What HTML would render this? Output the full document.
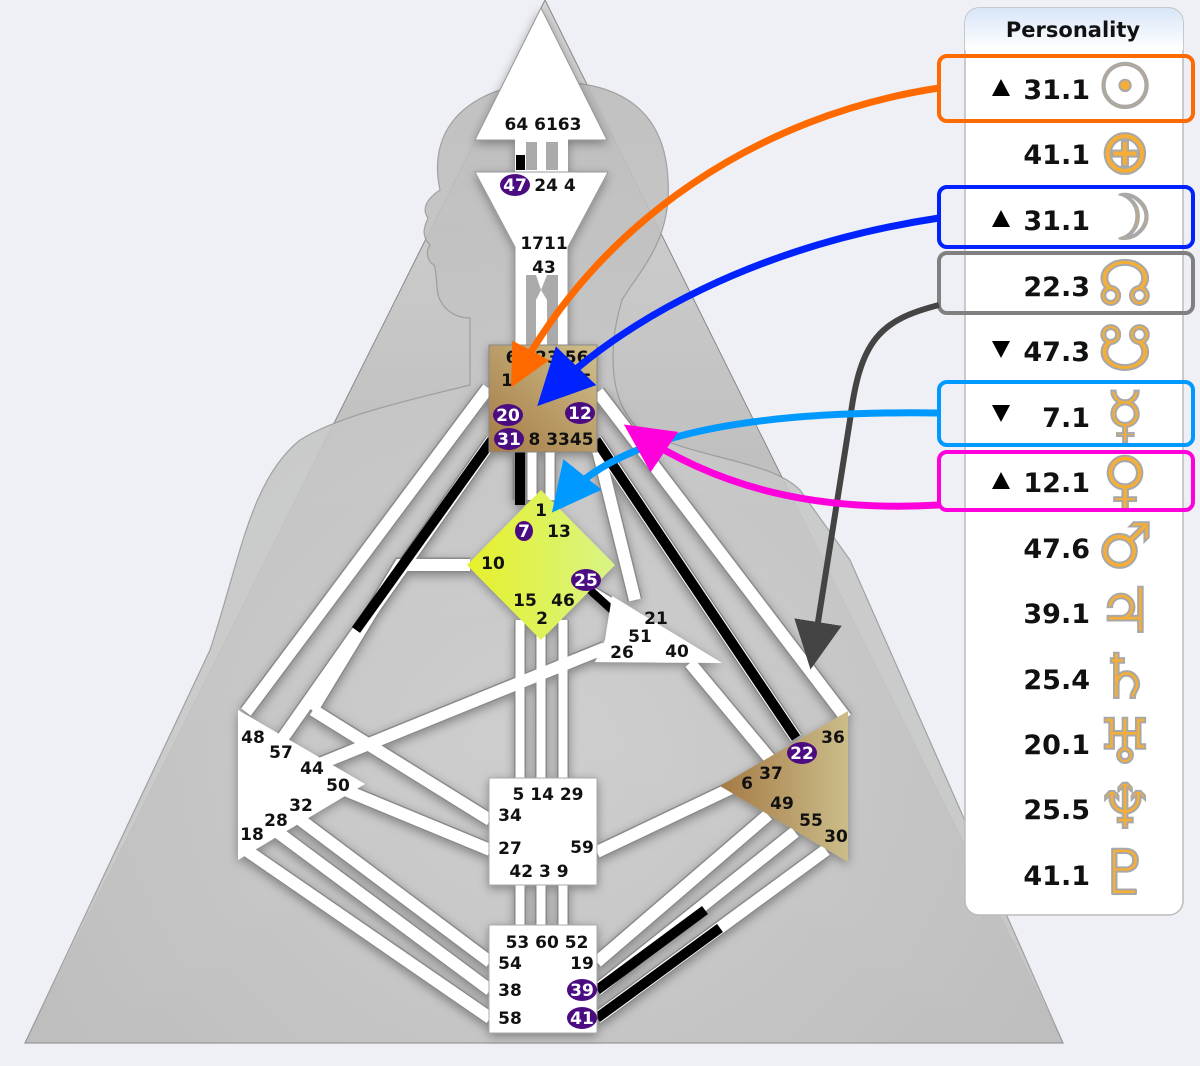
<!DOCTYPE html>
<html><head><meta charset="utf-8"><style>
html,body{margin:0;padding:0;background:#eef0f5;}
svg{display:block}
.t{font-family:"DejaVu Sans","Liberation Sans",sans-serif;font-weight:bold;font-size:17px;fill:#111;}
.w{fill:#fff}
.ch{stroke:#fff;stroke-width:12;fill:none}
.ro{stroke:#8a8a8a;stroke-width:15;fill:none}
.num{font-family:"DejaVu Sans","Liberation Sans",sans-serif;font-weight:bold;font-size:27px;fill:#111;text-anchor:end}
.sym{font-family:"DejaVu Sans",sans-serif;font-weight:bold;font-size:62px;fill:#f6ae35;stroke:#a8a8a8;stroke-width:2;text-anchor:middle}
</style></head><body>
<svg width="1200" height="1066" viewBox="0 0 1200 1066" xmlns="http://www.w3.org/2000/svg">
<defs>
<linearGradient id="tri" x1="0" y1="0" x2="0" y2="1"><stop offset="0" stop-color="#d6d6d6"/><stop offset="0.5" stop-color="#bdbdbd"/><stop offset="1" stop-color="#a4a4a4"/></linearGradient>
<radialGradient id="sil" cx="0.5" cy="0.7" r="0.7"><stop offset="0" stop-color="#d2d2d2"/><stop offset="1" stop-color="#bdbdbd"/></radialGradient>
<linearGradient id="br" x1="0" y1="1" x2="1" y2="0"><stop offset="0" stop-color="#a57a45"/><stop offset="1" stop-color="#cfc08c"/></linearGradient>
<linearGradient id="br2" x1="0" y1="0" x2="1" y2="0"><stop offset="0" stop-color="#a57a45"/><stop offset="1" stop-color="#cbbd8a"/></linearGradient>
<linearGradient id="yl" x1="0" y1="0" x2="1" y2="0"><stop offset="0" stop-color="#e6f02a"/><stop offset="1" stop-color="#d8f486"/></linearGradient>
<linearGradient id="hd" x1="0" y1="0" x2="0" y2="1"><stop offset="0" stop-color="#d8e6f8"/><stop offset="1" stop-color="#fff"/></linearGradient>
<filter id="sh" x="-20%" y="-20%" width="140%" height="140%"><feDropShadow dx="0" dy="3" stdDeviation="5" flood-color="#000" flood-opacity="0.35"/></filter>
<marker id="ao" viewBox="0 0 10 10" refX="8" refY="5" markerWidth="6" markerHeight="6" orient="auto"><path d="M0,0L10,5L0,10z" fill="#ff6a00"/></marker>
<marker id="ab" viewBox="0 0 10 10" refX="8" refY="5" markerWidth="8" markerHeight="8" orient="auto"><path d="M0,0L10,5L0,10z" fill="#0022ff"/></marker>
<marker id="ag" viewBox="0 0 10 10" refX="8" refY="5" markerWidth="8" markerHeight="8" orient="auto"><path d="M0,0L10,5L0,10z" fill="#444"/></marker>
<marker id="al" viewBox="0 0 10 10" refX="8" refY="5" markerWidth="7" markerHeight="7" orient="auto"><path d="M0,0L10,5L0,10z" fill="#0099ff"/></marker>
<marker id="am" viewBox="0 0 10 10" refX="8" refY="5" markerWidth="7" markerHeight="7" orient="auto"><path d="M0,0L10,5L0,10z" fill="#ff00dd"/></marker>
</defs>
<rect width="1200" height="1066" fill="#eef0f5"/>
<path d="M545,0 L1063,1043 L25,1043 Z" fill="url(#tri)" stroke="#888" stroke-width="1"/>
<path d="M440,190 C425,120 480,85 545,82 C620,80 665,110 668,180 C672,240 640,270 622,300 C610,340 605,400 640,430 C700,460 770,460 800,490 L850,560 L1063,1043 L25,1043 L210,650 C240,560 250,480 300,440 C340,415 410,400 470,385 L470,318 C455,318 445,310 440,300 C435,290 438,275 434,265 C428,262 425,252 430,245 C420,235 425,225 428,218 C422,210 425,200 440,190 Z" fill="url(#sil)" stroke="#999" stroke-width="1.2" opacity="0.9"/>
<g filter="url(#sh)">
<g class="ro">
<path d="M488,388 L246,712"/><path d="M492,440 L280,742"/>
<path d="M598,392 L846,718"/><path d="M596,440 L796,738"/>
<path d="M470,565 L400,565 L312,710"/>
<path d="M313,710 L490,820"/><path d="M345,790 L490,850"/>
<path d="M300,772 L605,648"/>
<path d="M598,450 L635,600"/>
<path d="M690,663 L775,765"/>
<path d="M597,852 L738,785"/>
<path d="M490,962 L290,812"/><path d="M490,990 L272,828"/><path d="M490,1018 L246,850"/>
<path d="M597,962 L768,815"/><path d="M597,990 L795,832"/><path d="M597,1018 L826,850"/>
<path d="M520,452 V500"/><path d="M532,452 V500" stroke-width="12"/><path d="M550,452 V500" stroke-width="12"/>
<path d="M520,620 V780" stroke-width="12"/><path d="M541,630 V780" stroke-width="12"/><path d="M563,620 V780" stroke-width="12"/>
<path d="M520,885 V928" stroke-width="12"/><path d="M541,885 V928" stroke-width="12"/><path d="M563,885 V928" stroke-width="12"/>
<path d="M590,590 L640,620" stroke-width="12"/>
</g>
<g class="ch">
<path d="M488,388 L246,712"/><path d="M492,440 L280,742"/>
<path d="M598,392 L846,718"/><path d="M596,440 L796,738"/>
<path d="M470,565 L400,565 L312,710"/>
<path d="M313,710 L490,820"/><path d="M345,790 L490,850"/>
<path d="M300,772 L605,648"/>
<path d="M598,450 L635,600"/>
<path d="M690,663 L775,765"/>
<path d="M597,852 L738,785"/>
<path d="M490,962 L290,812"/><path d="M490,990 L272,828"/><path d="M490,1018 L246,850"/>
<path d="M597,962 L768,815"/><path d="M597,990 L795,832"/><path d="M597,1018 L826,850"/>
<path d="M532,452 V500" stroke-width="9"/><path d="M550,452 V500" stroke-width="9"/>
<path d="M520,620 V780" stroke-width="9"/><path d="M541,630 V780" stroke-width="9"/><path d="M563,620 V780" stroke-width="9"/>
<path d="M520,885 V928" stroke-width="9"/><path d="M541,885 V928" stroke-width="9"/><path d="M563,885 V928" stroke-width="9"/>
<path d="M590,590 L640,620" stroke-width="9"/>
</g>
<g stroke="#000" fill="none">
<path d="M492,440 L356,630" stroke-width="10"/>
<path d="M596,440 L796,738" stroke-width="10"/>
<path d="M520,452 V505" stroke-width="10"/>
<path d="M590,590 L612,610" stroke-width="8"/>
<path d="M597,990 L705,910" stroke-width="10"/>
<path d="M597,1018 L720,928" stroke-width="10"/>
</g>
<path d="M541,8 L607,140 L475,140 Z" fill="#fff" stroke="#999"/>
<rect x="515" y="139" width="53" height="34" fill="#fff"/>
<rect x="526" y="142" width="11" height="28" fill="#aaa"/><rect x="546" y="142" width="12" height="28" fill="#aaa"/>
<rect x="516" y="155" width="9" height="15" fill="#000"/>
<path d="M475,172 L608,172 L568,247 L568,347 L515,347 L515,247 Z" fill="#fff" stroke="#999"/>
<path d="M526,275 L536,275 L541,290 L547,275 L558,275 L558,347 L547,347 L547,300 L541,290 L536,300 L536,347 L526,347 Z" fill="#aaa"/>
<rect x="489" y="345" width="108" height="107" fill="url(#br)" stroke="#888"/>
<path d="M541,490 L615,565 L541,640 L467,565 Z" fill="url(#yl)"/>
<path d="M612,596 L722,663 L595,662 L605,640 Z" fill="#fff"/>
<path d="M238,710 L365,784 L238,860 Z" fill="#fff"/>
<rect x="489" y="778" width="108" height="107" fill="#fff" stroke="#aaa"/>
<rect x="489" y="925" width="108" height="108" fill="#fff" stroke="#aaa"/>
<path d="M848,711 L848,862 L720,786 Z" fill="url(#br2)"/>
</g>
<g class="t" text-anchor="middle">
<text x="543" y="130">64 6163</text>
<ellipse cx="515" cy="185" rx="15" ry="11" fill="#4b0c82"/><text x="515" y="191" class="t w">47</text>
<text x="555" y="191">24 4</text>
<text x="544" y="249">1711</text><text x="544" y="273">43</text>
<text x="547" y="363">62 23 56</text>
<text x="507" y="386">1</text><text x="580" y="386">35</text>
<ellipse cx="508" cy="415" rx="15" ry="11" fill="#4b0c82"/><text x="508" y="421" class="t w">20</text>
<ellipse cx="580" cy="413" rx="15" ry="11" fill="#4b0c82"/><text x="580" y="419" class="t w">12</text>
<ellipse cx="509" cy="439" rx="15" ry="11" fill="#4b0c82"/><text x="509" y="445" class="t w">31</text>
<text x="561" y="445">8 3345</text>
<text x="541" y="516">1</text>
<ellipse cx="524" cy="531" rx="9" ry="10" fill="#4b0c82"/><text x="524" y="537" class="t w">7</text>
<text x="559" y="537">13</text>
<text x="493" y="569">10</text>
<ellipse cx="586" cy="580" rx="15" ry="11" fill="#4b0c82"/><text x="586" y="586" class="t w">25</text>
<text x="525" y="606">15</text><text x="563" y="606">46</text><text x="542" y="624">2</text>
<text x="656" y="624">21</text><text x="640" y="642">51</text><text x="622" y="658">26</text><text x="677" y="657">40</text>
<text x="253" y="743">48</text><text x="281" y="758">57</text><text x="312" y="774">44</text><text x="338" y="791">50</text>
<text x="301" y="811">32</text><text x="276" y="826">28</text><text x="252" y="840">18</text>
<text x="548" y="800">5 14 29</text><text x="510" y="821">34</text><text x="510" y="854">27</text><text x="582" y="853">59</text>
<text x="539" y="877">42 3  9</text>
<text x="547" y="948">53 60 52</text><text x="510" y="969">54</text><text x="582" y="969">19</text>
<text x="510" y="996">38</text><text x="510" y="1024">58</text>
<ellipse cx="582" cy="990" rx="15" ry="11" fill="#4b0c82"/><text x="582" y="996" class="t w">39</text>
<ellipse cx="582" cy="1018" rx="15" ry="11" fill="#4b0c82"/><text x="582" y="1024" class="t w">41</text>
<text x="833" y="743">36</text>
<ellipse cx="802" cy="753" rx="15" ry="11" fill="#4b0c82"/><text x="802" y="759" class="t w">22</text>
<text x="771" y="779">37</text><text x="747" y="789">6</text><text x="782" y="809">49</text><text x="811" y="826">55</text><text x="836" y="842">30</text>
</g>
<rect x="965" y="8" width="218" height="907" rx="14" fill="#fff" stroke="#bbb" stroke-width="1.5"/>
<path d="M979,8 H1169 A14,14 0 0 1 1183,22 V50 H965 V22 A14,14 0 0 1 979,8 Z" fill="url(#hd)"/>
<text x="1073" y="37" text-anchor="middle" style="font-family:'DejaVu Sans','Liberation Sans',sans-serif;font-weight:bold;font-size:21px" fill="#111">Personality</text>
<g>
<text class="num" x="1090" y="99">31.1</text><text class="sym" x="1125" y="108">☉</text>
<text class="num" x="1090" y="164">41.1</text><text class="sym" x="1125" y="173">⊕</text>
<text class="num" x="1090" y="230">31.1</text><text class="sym" x="1125" y="239">☽</text>
<text class="num" x="1090" y="296">22.3</text><text class="sym" x="1125" y="305">☊</text>
<text class="num" x="1090" y="361">47.3</text><text class="sym" x="1125" y="370">☋</text>
<text class="num" x="1090" y="427">7.1</text><text class="sym" x="1125" y="436">☿</text>
<text class="num" x="1090" y="492">12.1</text><text class="sym" x="1125" y="501">♀</text>
<text class="num" x="1090" y="558">47.6</text><text class="sym" x="1125" y="567">♂</text>
<text class="num" x="1090" y="623">39.1</text><text class="sym" x="1125" y="632">♃</text>
<text class="num" x="1090" y="689">25.4</text><text class="sym" x="1125" y="698">♄</text>
<text class="num" x="1090" y="754">20.1</text><text class="sym" x="1125" y="763">♅</text>
<text class="num" x="1090" y="819">25.5</text><text class="sym" x="1125" y="828">♆</text>
<text class="num" x="1090" y="885">41.1</text><text class="sym" x="1125" y="894">♇</text>
</g>
<g fill="#000">
<path d="M992,96 L1001,79 L1010,96Z"/><path d="M992,227 L1001,210 L1010,227Z"/>
<path d="M992,341 L1010,341 L1001,358Z"/><path d="M992,405 L1010,405 L1001,422Z"/>
<path d="M992,489 L1001,472 L1010,489Z"/>
</g>
<g fill="none" stroke-width="4">
<rect x="939" y="56" width="254" height="65" rx="8" stroke="#ff6a00"/>
<rect x="939" y="187" width="254" height="60" rx="8" stroke="#0022ff"/>
<rect x="939" y="253" width="254" height="60" rx="8" stroke="#808080"/>
<rect x="939" y="382" width="254" height="63" rx="8" stroke="#0099ff"/>
<rect x="939" y="452" width="254" height="58" rx="8" stroke="#ff00dd"/>
</g>
<g fill="none" stroke-width="7">
<path d="M939,88 C760,115 600,220 515,380" stroke="#ff6a00" marker-end="url(#ao)"/>
<path d="M939,218 C760,245 620,320 545,398" stroke="#0022ff" marker-end="url(#ab)"/>
<path d="M939,305 C880,320 860,340 850,420 L812,660" stroke="#444" stroke-width="6" marker-end="url(#ag)"/>
<path d="M939,413 C730,410 610,440 558,505" stroke="#0099ff" marker-end="url(#al)"/>
<path d="M939,505 C820,512 720,490 632,430" stroke="#ff00dd" marker-end="url(#am)"/>
</g>
</svg>
</body></html>
